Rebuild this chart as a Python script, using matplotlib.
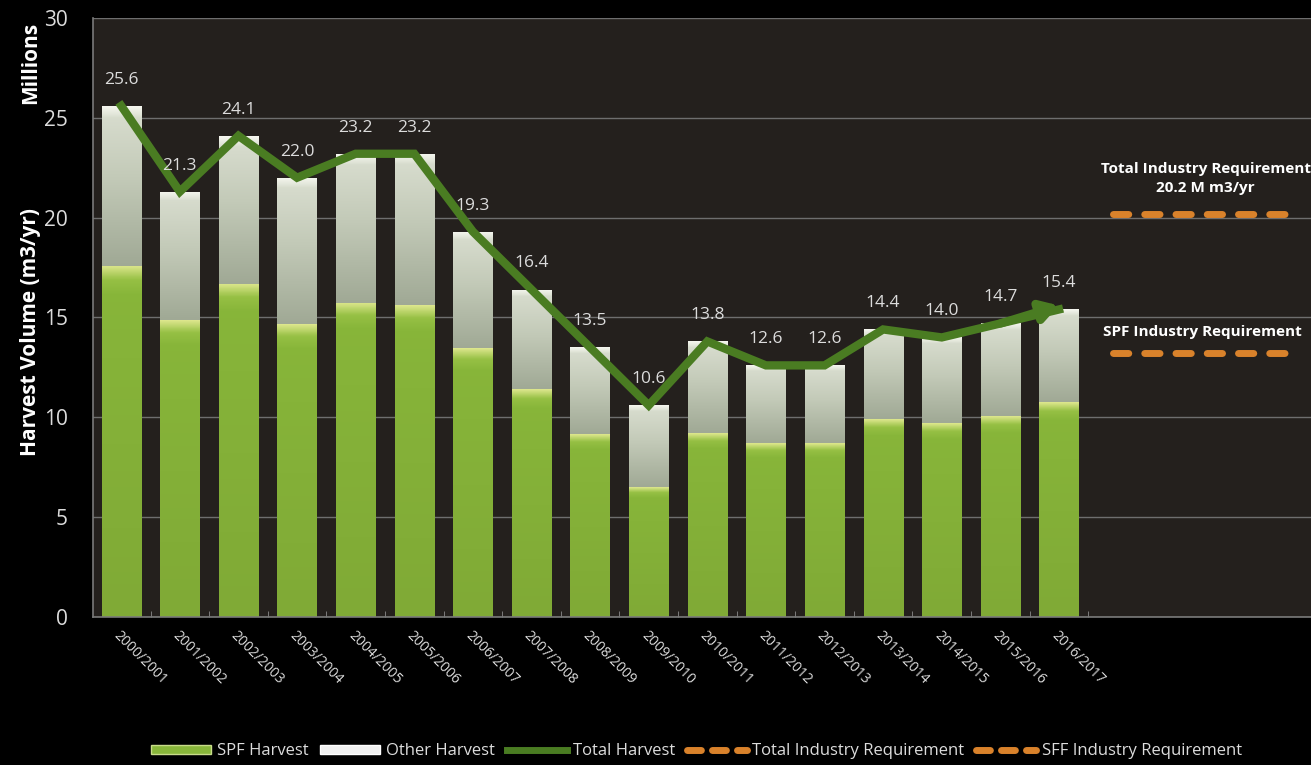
import numpy as np
import matplotlib
matplotlib.use("Agg")
import matplotlib.pyplot as plt
from matplotlib.colors import LinearSegmentedColormap
from matplotlib.lines import Line2D
from matplotlib.patches import Patch

plt.rcParams['font.family'] = ['Open Sans', 'DejaVu Sans']

years = ["2000/2001", "2001/2002", "2002/2003", "2003/2004", "2004/2005", "2005/2006",
         "2006/2007", "2007/2008", "2008/2009", "2009/2010", "2010/2011", "2011/2012",
         "2012/2013", "2013/2014", "2014/2015", "2015/2016", "2016/2017"]
total_harvest = [25.6, 21.3, 24.1, 22.0, 23.2, 23.2, 19.3, 16.4, 13.5, 10.6, 13.8,
                 12.6, 12.6, 14.4, 14.0, 14.7, 15.4]
spf_harvest = [17.6, 14.85, 16.7, 14.65, 15.75, 15.6, 13.45, 11.4, 9.15, 6.5, 9.2,
               8.7, 8.7, 9.9, 9.7, 10.05, 10.75]
other_harvest = [round(t - s, 2) for t, s in zip(total_harvest, spf_harvest)]
total_requirement = 20.2
spf_requirement = 13.2
yticks = [0, 5, 10, 15, 20, 25, 30]

BG = "#000000"
PLOT_BG = "#24201d"
GREEN = "#88b63a"
OTHER = "#c9d0bf"
LINE_GREEN = "#4a7c22"
ORANGE = "#d9822b"
TXT = "#dcdcdc"

fig = plt.figure(figsize=(13.11, 7.65), dpi=100, facecolor=BG)
ax = fig.add_axes([0.071, 0.1935, 0.929, 0.783], facecolor=PLOT_BG)

x = np.arange(len(years))
w = 0.67
b1 = ax.bar(x, spf_harvest, width=w, color=GREEN, zorder=2)
b2 = ax.bar(x, other_harvest, bottom=spf_harvest, width=w, color=OTHER, zorder=2)

# glossy gradients clipped to each bar
cm_green = LinearSegmentedColormap.from_list("g", ["#dce68c", "#96c044", "#88b63a", "#80aa36"])
cm_other = LinearSegmentedColormap.from_list("o", ["#f6f7f0", "#e0e4d7", "#c3cab8", "#a0a995"])
grad = np.linspace(0, 1, 256).reshape(-1, 1)
for bars, cm in ((b1, cm_green), (b2, cm_other)):
    for r in bars:
        x0, y0, bw, bh = r.get_x(), r.get_y(), r.get_width(), r.get_height()
        if cm is cm_green:
            g = np.clip(grad * 12, 0, 1) * 0.66 + grad * 0.34
        else:
            g = np.clip(grad * 14, 0, 1) * 0.4 + grad * 0.6
        im = ax.imshow(g, cmap=cm, aspect='auto', origin='upper',
                       extent=(x0, x0 + bw, y0, y0 + bh), zorder=2.1, vmin=0, vmax=1)
        im.set_clip_path(r)

# total harvest line with arrow head
ax.plot(x, total_harvest, color=LINE_GREEN, lw=6, zorder=4, solid_joinstyle='miter')
ax.annotate("", xy=(x[-1], total_harvest[-1] + 0.2), xytext=(x[-2], total_harvest[-2]),
            arrowprops=dict(arrowstyle='-|>,head_length=1.0,head_width=0.6',
                            color=LINE_GREEN, lw=6, shrinkA=0, shrinkB=0), zorder=5)

for xi, t in zip(x, total_harvest):
    ax.annotate(f"{t:.1f}", (xi, t), xytext=(0, 13), textcoords='offset points',
                ha='center', va='bottom', color=TXT, fontsize=12.5, zorder=6)

# requirement lines
req_x = [16.93, 20.0]
lw_req = 5
for yv in (total_requirement, spf_requirement):
    ax.plot(req_x, [yv] * 2, color=ORANGE, lw=lw_req, dashes=(2.2, 2.3),
            dash_capstyle='round', zorder=3)
ax.text(18.5, total_requirement + 0.95, "Total Industry Requirement\n20.2 M m3/yr",
        ha='center', va='bottom', color='white', fontsize=11, fontweight='bold',
        linespacing=1.4)
ax.text(18.45, spf_requirement + 0.7, "SPF Industry Requirement",
        ha='center', va='bottom', color='white', fontsize=11, fontweight='bold')

ax.set_xlim(-0.48, 20.3)
ax.set_ylim(0, 30)
ax.set_yticks(yticks)
ax.yaxis.grid(True, color="#6e6e6e", lw=1.0, zorder=0)
ax.set_axisbelow(True)
ax.tick_params(axis='y', length=0, pad=18, labelsize=15, labelcolor=TXT)
ax.set_xticks(x)
ax.set_xticklabels(years, rotation=-45, ha='left', va='top', rotation_mode='anchor',
                   color=TXT, fontsize=10)
ax.tick_params(axis='x', length=0, pad=8)
ax.set_xticks(np.arange(0.5, 16.6, 1), minor=True)
ax.tick_params(axis='x', which='minor', direction='in', length=4, color="#8a8a8a")
for s in ('top', 'right'):
    ax.spines[s].set_visible(False)
for s in ('left', 'bottom'):
    ax.spines[s].set_color("#7a7a7a")
    ax.spines[s].set_linewidth(1.2)

fig.text(0.023, 0.566, "Harvest Volume (m3/yr)", rotation=90, ha='center', va='center',
         color='white', fontsize=15, fontweight='bold')
fig.text(0.023, 0.918, "Millions", rotation=90, ha='center', va='center',
         color='white', fontsize=15, fontweight='bold')

handles = [
    Patch(facecolor=GREEN, edgecolor="#c8dc8a"),
    Patch(facecolor="#f0f0f0", edgecolor="#ffffff"),
    Line2D([0], [0], color=LINE_GREEN, lw=5),
    Line2D([0], [0], color=ORANGE, lw=5, dashes=(2.0, 1.6), dash_capstyle='round'),
    Line2D([0], [0], color=ORANGE, lw=5, dashes=(2.0, 1.6), dash_capstyle='round'),
]
labels = ["SPF Harvest", "Other Harvest", "Total Harvest",
          "Total Industry Requirement", "SFF Industry Requirement"]
leg = fig.legend(handles, labels, loc='lower left', bbox_to_anchor=(0.104, -0.012),
                 ncol=5, frameon=False, fontsize=12, labelcolor=TXT,
                 handlelength=3.6, handleheight=0.45, columnspacing=0.7, handletextpad=0.35)

fig.savefig("out.png", dpi=100, facecolor=BG)
